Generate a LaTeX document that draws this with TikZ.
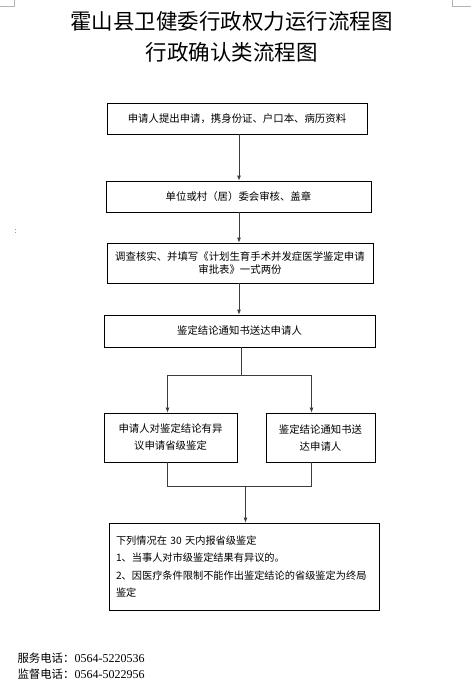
\documentclass[tikz,border=0pt]{standalone}
\usepackage{fontspec}
\setmainfont{Liberation Serif}
\newfontfamily\cjk{Noto Sans CJK SC}
\usepackage{tikz}
\usetikzlibrary{arrows.meta,positioning,calc}
\definecolor{linkgray}{HTML}{3C3C3C}
\definecolor{markgray}{HTML}{B4B4B4}

\begin{document}
\begin{tikzpicture}[x=1pt,y=-1pt,font=\cjk\fontsize{10.4}{12.5}\selectfont,
  box/.style={draw,line width=0.8pt,inner sep=0pt,align=center},
  link/.style={linkgray,line width=0.8pt},
  arr/.style={link,-{Latex[length=5pt,width=4pt]}}]
\useasboundingbox (0,0) rectangle (471,697);
\draw[markgray] (14,0)--(14,6)--(0,6);
\draw[markgray] (452,0)--(452,6)--(471,6);
\node[font=\cjk\fontsize{21.5}{26}\selectfont] (title) at (231.5,21.5) {霍山县卫健委行政权力运行流程图};
\node[font=\cjk\fontsize{21.5}{26}\selectfont] (subtitle) at (231.5,52.5) {行政确认类流程图};
\node[font=\cjk\fontsize{6}{7}\selectfont] (dot) at (17,232) {：};
\node[box,minimum width=260,minimum height=31] (apply) at (237,118.5) {申请人提出申请，携身份证、户口本、病历资料};
\node[box,minimum width=265,minimum height=31] (check) at (238.5,196.5) {单位或村（居）委会审核、盖章};
\node[box,minimum width=266,minimum height=40] (survey) at (240,263) {调查核实、并填写《计划生育手术并发症医学鉴定申请\\审批表》一式两份};
\node[box,minimum width=271,minimum height=32] (notice) at (239.5,331) {鉴定结论通知书送达申请人};
\node[box,minimum width=133,minimum height=49,font=\cjk\fontsize{10.4}{17}\selectfont] (objection) at (170.5,437.5) {申请人对鉴定结论有异\\议申请省级鉴定};
\node[box,minimum width=109,minimum height=49,font=\cjk\fontsize{10.4}{17}\selectfont] (deliver) at (320.5,437.5) {鉴定结论通知书送\\达申请人};
\node[box,align=left,text width=256,inner xsep=7,minimum height=87,font=\cjk\fontsize{10.2}{17.3}\selectfont] (report) at (244,566.5) {下列情况在 30 天内报省级鉴定\\1、当事人对市级鉴定结果有异议的。\\2、因医疗条件限制不能作出鉴定结论的省级鉴定为终局\\鉴定};
\coordinate (spine) at (239,0);
\draw[arr] (apply.south -| spine) -- (check.north -| spine);
\draw[arr] (check.south -| spine) -- (survey.north -| spine);
\draw[arr] (survey.south -| spine) -- (notice.north -| spine);
\coordinate (fork) at (241.5,375);
\coordinate (forkL) at (167.5,375);
\coordinate (forkR) at (311.5,375);
\draw[link] (notice.south -| fork) -- (fork);
\draw[link] (forkL) -- (forkR);
\draw[arr] (forkL) -- (forkL |- objection.north);
\draw[arr] (forkR) -- (forkR |- deliver.north);
\coordinate (joinL) at (167.5,486);
\coordinate (joinR) at (311.5,486);
\coordinate (join) at (245.5,486);
\draw[link] (objection.south -| joinL) -- (joinL) -- (joinR) -- (deliver.south -| joinR);
\draw[arr] (join) -- (join |- report.north);
\node[anchor=west,font=\fontsize{12}{14}\selectfont] (service) at (14,658) {{\cjk\fontsize{11.4}{14}\selectfont 服务电话：}0564-5220536};
\node[anchor=west,font=\fontsize{12}{14}\selectfont] (supervise) at (14,674) {{\cjk\fontsize{11.4}{14}\selectfont 监督电话：}0564-5022956};
\end{tikzpicture}
\end{document}
